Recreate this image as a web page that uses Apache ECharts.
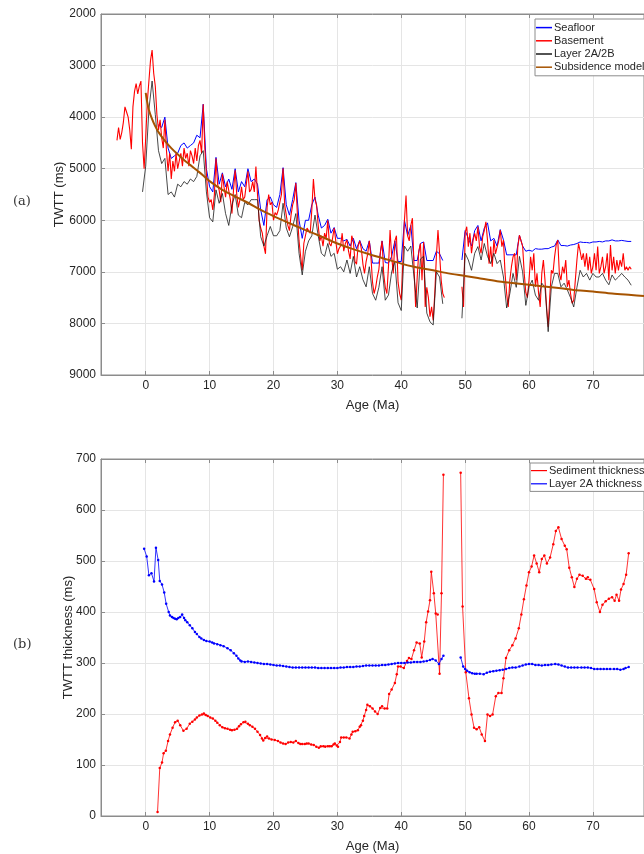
<!DOCTYPE html>
<html>
<head>
<meta charset="utf-8">
<script src="https://cdn.jsdelivr.net/npm/echarts@6/dist/echarts.min.js"></script>
<style>
  html, body { margin: 0; padding: 0; background: #fff; }
  #chart { width: 644px; height: 854px; }
</style>
</head>
<body>
<div id="chart"></div>
<script>
// ---- panel (a): TWTT profiles vs age ----
// basement: sampled every 0.25 Ma from -4.5 Ma
const basementStart = -4.5, basementStep = 0.25;
const basement = [
  4450, 4200, 4430, 4300, 4100, 3800, 3900, 4000, 4250, 4620, 3800, 3500, 3350, 3550, 3400, 3300, 4500, 5000, // -4.5 .. -0.25
  4400, 3700, 3300, 2900,   // 0
  2700, 3150, 3400, 3950,   // 1
  4250, 4050, 4400, 4600,   // 2
  4050, 4650, 5050, 4700,   // 3
  5200, 4850, 5050, 4700,   // 4
  5000, 4850, 4700, 4950,   // 5
  4600, 4800, 4700, 4950,   // 6
  4650, 4750, 4900, 4600,   // 7
  4850, 4550, 4450, 4700,   // 8
  3750, 4600, 5100, 5550,   // 9
  5650, 5600, 5800, 5500,   // 10
  4800, 5300, 5420, 5650,   // 11
  5100, 5350, 5550, 5250,   // 12
  5220, 5600, 5870, 5400,   // 13
  5030, 5500, 5750, 5600,   // 14
  5350, 5600, 5550, 5300,   // 15
  5050, 5450, 5400, 5250,   // 16
  5450, 4960, 5500, 6000,   // 17
  6150, 6250, 6500, 6650,   // 18
  5750, 5500, 5700, 5650,   // 19
  6000, 5850, 5900, 5800,   // 20
  5650, 5500, 4990, 5700,   // 21
  5900, 6100, 6200, 5900,   // 22
  5700, 5600, 5280, 5900,   // 23
  6400, 6700, 6970, 6450,   // 24
  6300, 6150, 6200, 6250,   // 25
  5800, 5200, 5600, 5700,   // 26
  6100, 6400, 6300, 6500,   // 27
  6250, 6350, 6000, 6450,   // 28
  6500, 6350, 6150, 6400,   // 29
  6650, 6550, 6500, 6250,   // 30
  6600, 6450, 6380, 6600,   // 31
  6750, 6300, 6400, 6800,   // 32
  6850, 6500, 6400, 6550,   // 33
  6850, 7030, 6800, 6650,   // 34
  6400, 6700, 7200, 7420,   // 35
  7300, 7100, 6950, 6600,   // 36
  6400, 7030, 7300, 7420,   // 37
  6900, 6190, 6700, 7030,   // 38
  6400, 6300, 7200, 7420,   // 39
  7550, 6800, 6000, 5520,   // 40
  6300, 6400, 6100, 5960,   // 41
  6900, 7680, 7100, 6600,   // 42
  6450, 7160, 6420, 7680,   // 43
  7300, 7500, 7870, 7680,   // 44
  7940, 7420, 6700, 6190,   // 45
  6650, 7160, 7420, 7500,   // 46
  null, null, null, null,   // 47
  null, null, null, null,   // 48
  null, null, 7290, 7680,   // 49
  6250, 6125, 6510, 6250,   // 50
  6640, 6385, 6255, 6400,   // 51
  6125, 6510, 6640, 6320,   // 52
  6200, 6030, 6385, 6840,   // 53
  6510, 6900, 6385, 6650,   // 54
  6640, 6400, 6190, 6510,   // 55
  6385, 7030, 7420, 7680,   // 56
  7160, 6900, 6710, 6640,   // 57
  7160, 6510, 6290, 6320,   // 58
  6500, 7030, 7400, 7500,   // 59
  7160, 6710, 6970, 6640,   // 60
  7290, 7030, 7420, 7680,   // 61
  7030, 6770, 7160, 7680,   // 62
  8070, 7480, 6970, 7030,   // 63
  6710, 6480, 6385, 7030,   // 64
  7160, 6900, 7030, 6770,   // 65
  7290, 7160, 7420, 7610,   // 66
  7550, 7160, 6770, 6450,   // 67
  6600, 6770, 6640, 6900,   // 68
  6640, 6970, 6710, 7030,   // 69
  6900, 6640, 6970, 6510,   // 70
  7030, 6900, 6710, 7030,   // 71
  6900, 6640, 7160, 6480,   // 72
  6970, 6710, 7030, 6770,   // 73
  6970, 6770, 6900, 6640,   // 74
  6970, 6900, 6970, 6900,   // 75
  6950                      // 76
];

// seafloor: every 0.5 Ma from 2 Ma
const seafloorStart = 2, seafloorStep = 0.5;
const seafloor = [
  4150, 4200, 4000, 4600, 4800, 4750, 4700, 4550, 4500, 4600, 4550, 4500, 4350, 4400, 3750, 5000, // 2 .. 9.5
  5350, 5450, 4780, 5300, 5080, 5350, 5200, 5400, 5000, 5450, 5250, 5350, 5000, 5250, 5200, 5300, 5800, 6100, 5600, 5550, // 10 .. 19.5
  5700, 5750, 5500, 4980, 5700, 5900, 5600, 5270, 6000, 6350, 6000, 6000, 5700, 5550, 5900, 6150, 6100, 5980, 6250, 6140, // 20 .. 29.5
  6350, 6350, 6400, 6370, 6500, 6350, 6550, 6390, 6550, 6600, 6400, 6830, 6830, 6830, 6400, 6820, 6830, 6700, 6400, 6800, // 30 .. 39.5
  6800, 6000, 6300, 6100, 6780, 6780, 6450, 6420, 6780, 6780, 6780, 6600, 6650, 6780, null, null, null, null, null, 6770, // 40 .. 49.5
  6200, 6350, 6500, 6200, 6100, 6400, 6150, 6050, 6400, 6350, 6500, 6180, 6380, 6670, 6670, 6670, 6670, 6290, 6500, 6600, // 50 .. 59.5
  6580, 6600, 6550, 6560, 6560, 6550, 6550, 6520, 6500, 6380, 6490, 6490, 6500, 6480, 6470, 6450, 6420, 6430, 6430, 6440, // 60 .. 69.5
  6420, 6420, 6410, 6420, 6400, 6400, 6380, 6400, 6400, 6390, 6400, 6410, 6410  // 70 .. 76
];

// layer 2A/2B boundary: every 0.5 Ma from -0.5 Ma
const layerStart = -0.5, layerStep = 0.5;
const layer2a2b = [
  5450, 4950, 3850, 3300, 3950, 4650, 4900, 4800, 5500, 5450, 5550, 5300, 5350, 5250, 5300, 5200, 5250, 5150, 4750, 4650, 5450, // -0.5 .. 9.5
  5950, 6030, 5410, 5670, 5480, 5870, 6100, 5700, 5500, 5900, 5950, 5650, 5700, 5600, 5600, 5600, 6320, 6500, 6300, 6120, // 10 .. 19.5
  6300, 6300, 6200, 5670, 6150, 6320, 6125, 5870, 6640, 7060, 6600, 6400, 6300, 5900, 6300, 6640, 6700, 6450, 6700, 6640, // 20 .. 29.5
  6950, 6900, 7000, 6770, 7030, 6700, 7100, 6900, 7150, 7290, 6900, 7420, 7550, 7300, 6900, 7550, 7450, 7000, 6800, 7600, // 30 .. 39.5
  7750, 6500, 6600, 6500, 7100, 7700, 6750, 6700, 7800, 7970, 8030, 7000, 7100, 7620, null, null, null, null, null, 7900, // 40 .. 49.5
  6640, 6770, 6970, 6640, 6510, 6770, 6450, 6700, 6840, 6640, 6840, 6770, 7100, 7700, 7420, 7030, 7300, 6700, 7000, 7650, // 50 .. 59.5
  7290, 7160, 7450, 7550, 7220, 7300, 8160, 7290, 7030, 7030, 7290, 7220, 7350, 7500, 7680, 7300, 6970, 7100, 7030, 7160, // 60 .. 69.5
  7030, 7100, 7100, 7030, 7160, 7250, 7060, 7160, 7100, 7030, 7100, 7160, 7260  // 70 .. 76
];

// subsidence model
const subsidenceAge = [0, 0.25, 0.5, 1, 1.5, 2, 3, 4, 5, 6, 7, 8, 9, 10, 12, 14, 16, 18, 20, 22, 25, 27, 30, 32, 35, 37, 40, 42, 45, 47, 50, 52, 55, 57, 60, 62, 65, 67, 70, 73, 76, 78];
const subsidence = [3530, 3720, 3860, 4040, 4180, 4290, 4460, 4600, 4720, 4830, 4930, 5030, 5130, 5240, 5410, 5540, 5660, 5800, 5920, 6030, 6190, 6290, 6450, 6540, 6660, 6730, 6840, 6900, 6970, 7020, 7080, 7120, 7180, 7210, 7250, 7280, 7320, 7350, 7380, 7420, 7450, 7470];

// ---- panel (b): thicknesses ----
const sedAge = [1.85, 2.2, 2.55, 2.8, 3.15, 3.5, 3.8, 4.2, 4.6, 5.0, 5.4, 5.9, 6.4, 6.9, 7.3, 7.7, 8.0, 8.4, 8.8, 9.1, 9.4, 9.7, 10.1, 10.5, 10.9, 11.2, 11.6, 12.0, 12.4, 12.8, 13.2, 13.5, 13.9, 14.3, 14.6, 14.9, 15.3, 15.6, 16.0, 16.3, 16.7, 17.1, 17.5, 17.9, 18.2, 18.4, 18.7, 19.0, 19.3, 19.7, 20.2, 20.7, 21.1, 21.5, 21.9, 22.3, 22.7, 23.1, 23.5, 23.9, 24.2, 24.5, 24.9, 25.2, 25.5, 25.9, 26.3, 26.7, 27.1, 27.4, 27.8, 28.1, 28.5, 28.8, 29.1, 29.4, 29.6, 29.9, 30.1, 30.4, 30.6, 31.0, 31.4, 31.9, 32.2, 32.4, 32.8, 33.2, 33.5, 33.7, 34.0, 34.2, 34.5, 34.7, 35.1, 35.5, 35.9, 36.3, 36.7, 37.0, 37.4, 37.8, 38.1, 38.5, 39.0, 39.3, 39.5, 39.9, 40.4, 40.9, 41.2, 41.6, 42.0, 42.4, 42.9, 43.2, 43.6, 43.9, 44.2, 44.5, 44.7, 45.1, 45.4, 45.7, 46.0, 46.3, 46.6, 48, 49.3, 49.6, 50.1, 50.6, 51.0, 51.4, 51.8, 52.2, 52.6, 53.1, 53.5, 53.9, 54.3, 54.8, 55.2, 55.7, 56.0, 56.4, 56.9, 57.4, 57.9, 58.4, 58.8, 59.2, 59.6, 60.0, 60.4, 60.8, 61.2, 61.6, 62.0, 62.4, 62.8, 63.3, 63.8, 64.2, 64.6, 65.1, 65.6, 65.9, 66.3, 66.7, 67.1, 67.5, 67.9, 68.4, 68.9, 69.2, 69.6, 70.2, 70.6, 71.1, 71.5, 72.0, 72.5, 73.0, 73.4, 73.7, 74.1, 74.4, 74.8, 75.2, 75.6];
const sedThick = [8, 94, 105, 123, 128, 147, 160, 173, 184, 187, 178, 167, 171, 181, 185, 189, 193, 197, 199, 201, 198, 196, 193, 191, 187, 183, 178, 174, 172, 171, 169, 168, 169, 171, 176, 180, 184, 185, 181, 178, 175, 171, 165, 159, 152, 148, 153, 156, 152, 150, 149, 147, 144, 142, 141, 144, 145, 144, 147, 143, 141, 141, 141, 142, 142, 140, 139, 136, 134, 137, 137, 136, 137, 137, 137, 140, 142, 138, 136, 145, 154, 154, 154, 152, 160, 165, 166, 168, 175, 178, 187, 196, 208, 218, 215, 211, 205, 200, 212, 215, 211, 211, 239, 248, 261, 278, 293, 293, 290, 304, 310, 308, 325, 340, 338, 311, 342, 380, 401, 423, 479, 437, 397, 395, 279, 437, 669, null, 673, 411, 282, 231, 199, 173, 170, 174, 160, 147, 199, 196, 199, 235, 241, 241, 270, 310, 325, 335, 348, 368, 395, 425, 452, 478, 489, 511, 495, 478, 504, 511, 495, 507, 533, 559, 566, 543, 530, 523, 487, 468, 449, 465, 473, 471, 465, 468, 463, 445, 419, 400, 414, 421, 426, 429, 422, 434, 422, 444, 455, 473, 515];

const l2aAge = [-0.25, 0.15, 0.5, 0.9, 1.3, 1.6, 1.95, 2.2, 2.55, 2.9, 3.2, 3.6, 3.8, 4.1, 4.35, 4.6, 4.85, 5.1, 5.4, 5.7, 6.0, 6.2, 6.5, 6.9, 7.3, 7.7, 8.0, 8.4, 8.7, 9.1, 9.5, 10, 10.4, 10.7, 11.2, 11.7, 12.2, 12.8, 13.3, 13.8, 14.2, 14.5, 14.8, 15.0, 15.5, 16, 16.5, 17, 17.5, 18, 18.5, 19, 19.5, 20, 20.5, 21, 21.5, 22, 22.5, 23, 23.5, 24, 24.5, 25, 25.5, 26, 26.5, 27, 27.5, 28, 28.5, 29, 29.5, 30, 30.5, 31, 31.5, 32, 32.5, 33, 33.5, 34, 34.5, 35, 35.5, 36, 36.5, 37, 37.5, 38, 38.5, 39, 39.5, 40, 40.5, 41, 41.5, 42, 42.5, 43, 43.5, 44, 44.5, 44.9, 45.4, 45.9, 46.3, 46.6, 48, 49.3, 49.7, 50.0, 50.3, 50.7, 51.1, 51.5, 51.8, 52.3, 52.9, 53.4, 53.9, 54.4, 54.9, 55.4, 55.9, 56.4, 56.9, 57.4, 57.9, 58.5, 59, 59.5, 60, 60.5, 61, 61.5, 62, 62.5, 63, 63.5, 64.1, 64.6, 65.1, 65.6, 66.1, 66.6, 67.1, 67.6, 68.2, 68.7, 69.2, 69.7, 70.2, 70.7, 71.2, 71.7, 72.2, 72.7, 73.3, 73.8, 74.3, 74.8, 75.1, 75.6];
const l2aThick = [524, 509, 472, 476, 460, 526, 502, 461, 454, 438, 416, 400, 393, 390, 388, 387, 386, 388, 390, 395, 388, 384, 380, 374, 368, 361, 357, 351, 348, 345, 343, 342, 340, 338, 337, 335, 333, 329, 325, 319, 314, 309, 305, 303, 302, 303, 302, 301, 300, 299, 298, 298, 297, 296, 295, 295, 294, 293, 292, 291, 291, 291, 291, 291, 291, 291, 291, 290, 290, 290, 290, 290, 290, 290, 291, 291, 292, 292, 292, 293, 293, 294, 295, 295, 295, 295, 295, 296, 296, 297, 298, 299, 300, 300, 300, 301, 301, 302, 302, 302, 303, 304, 306, 308, 305, 298, 308, 314, null, 311, 293, 288, 285, 282, 280, 279, 279, 279, 278, 281, 283, 284, 285, 286, 287, 288, 290, 291, 291, 293, 295, 297, 298, 298, 296, 296, 295, 296, 296, 297, 298, 297, 295, 293, 291, 291, 291, 291, 291, 291, 291, 290, 288, 288, 288, 288, 288, 288, 288, 288, 287, 288, 290, 292];

const ageTicks = [0, 10, 20, 30, 40, 50, 60, 70];

function sampled(start, step, vals) {
  return vals.map((v, i) => [+(start + i * step).toFixed(2), v]);
}
function zip(xs, ys) {
  return xs.map((x, i) => [x, ys[i]]);
}

const txt = '#262626';
const frame = '#8c8c8c';
const gridCol = '#e5e5e5';
const font = 'Liberation Sans, Helvetica, Arial, sans-serif';

function xAxes(gi) {
  return [
    {
      gridIndex: gi, type: 'value', min: -7, max: 78, position: 'bottom',
      name: 'Age (Ma)', nameLocation: 'middle', nameGap: 24, nameMoveOverlap: false,
      nameTextStyle: { color: txt, fontSize: 13, fontFamily: font },
      axisLine: { show: true, onZero: false, lineStyle: { color: frame } },
      axisTick: { show: true, inside: true, length: 4, customValues: ageTicks, lineStyle: { color: frame } },
      axisLabel: { customValues: ageTicks, color: txt, fontSize: 12, fontFamily: font, margin: 5 },
      splitLine: { show: true, lineStyle: { color: gridCol } }
    },
    {
      gridIndex: gi, type: 'value', min: -7, max: 78, position: 'top',
      axisLine: { show: true, onZero: false, lineStyle: { color: frame } },
      axisTick: { show: true, inside: true, length: 4, customValues: ageTicks, lineStyle: { color: frame } },
      axisLabel: { show: false },
      splitLine: { show: false }
    }
  ];
}

function legendItems(names, colors) {
  return names.map((n, i) => ({ name: n, icon: 'rect', itemStyle: { color: colors[i] } }));
}

const chart = echarts.init(document.getElementById('chart'), null, { renderer: 'canvas' });

const option = {
  animation: false,
  backgroundColor: '#fff',
  textStyle: { fontFamily: font },
  grid: [
    { left: 101, right: -12, top: 14, height: 361, show: true, borderColor: frame, borderWidth: 1 },
    { left: 101, right: -12, top: 459, height: 360, show: true, borderColor: frame, borderWidth: 1 }
  ],
  xAxis: xAxes(0).concat(xAxes(1)),
  yAxis: [
    {
      gridIndex: 0, type: 'value', inverse: true, min: 2000, max: 9000, interval: 1000,
      name: 'TWTT (ms)', nameLocation: 'middle', nameGap: 35, nameMoveOverlap: false,
      nameTextStyle: { color: txt, fontSize: 13, fontFamily: font },
      axisLine: { show: true, onZero: false, lineStyle: { color: frame } },
      axisTick: { show: true, inside: true, length: 4, lineStyle: { color: frame } },
      axisLabel: { color: txt, fontSize: 12, fontFamily: font, margin: 5, formatter: v => String(v) },
      splitLine: { show: true, lineStyle: { color: gridCol } }
    },
    {
      gridIndex: 1, type: 'value', min: 0, max: 700, interval: 100,
      name: 'TWTT thickness (ms)', nameLocation: 'middle', nameGap: 26, nameMoveOverlap: false,
      nameTextStyle: { color: txt, fontSize: 13, fontFamily: font },
      axisLine: { show: true, onZero: false, lineStyle: { color: frame } },
      axisTick: { show: true, inside: true, length: 4, lineStyle: { color: frame } },
      axisLabel: { color: txt, fontSize: 12, fontFamily: font, margin: 5, formatter: v => String(v) },
      splitLine: { show: true, lineStyle: { color: gridCol } }
    }
  ],
  legend: [
    {
      data: legendItems(['Seafloor', 'Basement', 'Layer 2A/2B', 'Subsidence model'], ['#0000ff', '#ff0000', '#1a1a1a', '#a65300']),
      orient: 'vertical', left: 535, top: 19, itemWidth: 16, itemHeight: 1.5, itemGap: 0,
      padding: [2, 6, 2, 1], backgroundColor: '#fff', borderColor: '#8c8c8c', borderWidth: 1,
      textStyle: { color: txt, fontSize: 11, fontFamily: font, lineHeight: 13.2, padding: [0, 0, 0, -3] }
    },
    {
      data: legendItems(['Sediment thickness', 'Layer 2A thickness'], ['#ff0000', '#0000ff']),
      orient: 'vertical', left: 530, top: 463, itemWidth: 16, itemHeight: 1.2, itemGap: 0,
      padding: [1, 6, 1, 1], backgroundColor: '#fff', borderColor: '#8c8c8c', borderWidth: 1,
      textStyle: { color: txt, fontSize: 11, fontFamily: font, lineHeight: 13.2, padding: [0, 0, 0, -3] }
    }
  ],
  series: [
    {
      name: 'Seafloor', type: 'line', xAxisIndex: 0, yAxisIndex: 0, symbol: 'none',
      data: sampled(seafloorStart, seafloorStep, seafloor),
      color: '#0000ff', lineStyle: { color: '#0000ff', width: 1 }
    },
    {
      name: 'Basement', type: 'line', xAxisIndex: 0, yAxisIndex: 0, symbol: 'none',
      data: sampled(basementStart, basementStep, basement),
      color: '#ff0000', lineStyle: { color: '#ff0000', width: 1.1 }
    },
    {
      name: 'Layer 2A/2B', type: 'line', xAxisIndex: 0, yAxisIndex: 0, symbol: 'none',
      data: sampled(layerStart, layerStep, layer2a2b),
      color: '#1a1a1a', lineStyle: { color: '#1a1a1a', width: 0.8 }
    },
    {
      name: 'Subsidence model', type: 'line', xAxisIndex: 0, yAxisIndex: 0, symbol: 'none', smooth: 0.3,
      data: zip(subsidenceAge, subsidence),
      color: '#a65300', lineStyle: { color: '#a65300', width: 2 }
    },
    {
      name: 'Sediment thickness', type: 'line', xAxisIndex: 2, yAxisIndex: 1,
      symbol: 'circle', symbolSize: 2.5, showSymbol: true,
      data: zip(sedAge, sedThick),
      color: '#ff0000', itemStyle: { color: '#ff0000' }, lineStyle: { color: '#ff0000', width: 0.8 }
    },
    {
      name: 'Layer 2A thickness', type: 'line', xAxisIndex: 2, yAxisIndex: 1,
      symbol: 'circle', symbolSize: 2.5, showSymbol: true,
      data: zip(l2aAge, l2aThick),
      color: '#0000ff', itemStyle: { color: '#0000ff' }, lineStyle: { color: '#0000ff', width: 0.8 }
    }
  ],
  graphic: [
    { type: 'text', left: 13, top: 195, style: { text: '(a)', fill: '#333', font: '13px "DejaVu Serif", serif' } },
    { type: 'text', left: 13, top: 638, style: { text: '(b)', fill: '#333', font: '13px "DejaVu Serif", serif' } }
  ]
};

chart.setOption(option);
</script>
</body>
</html>
